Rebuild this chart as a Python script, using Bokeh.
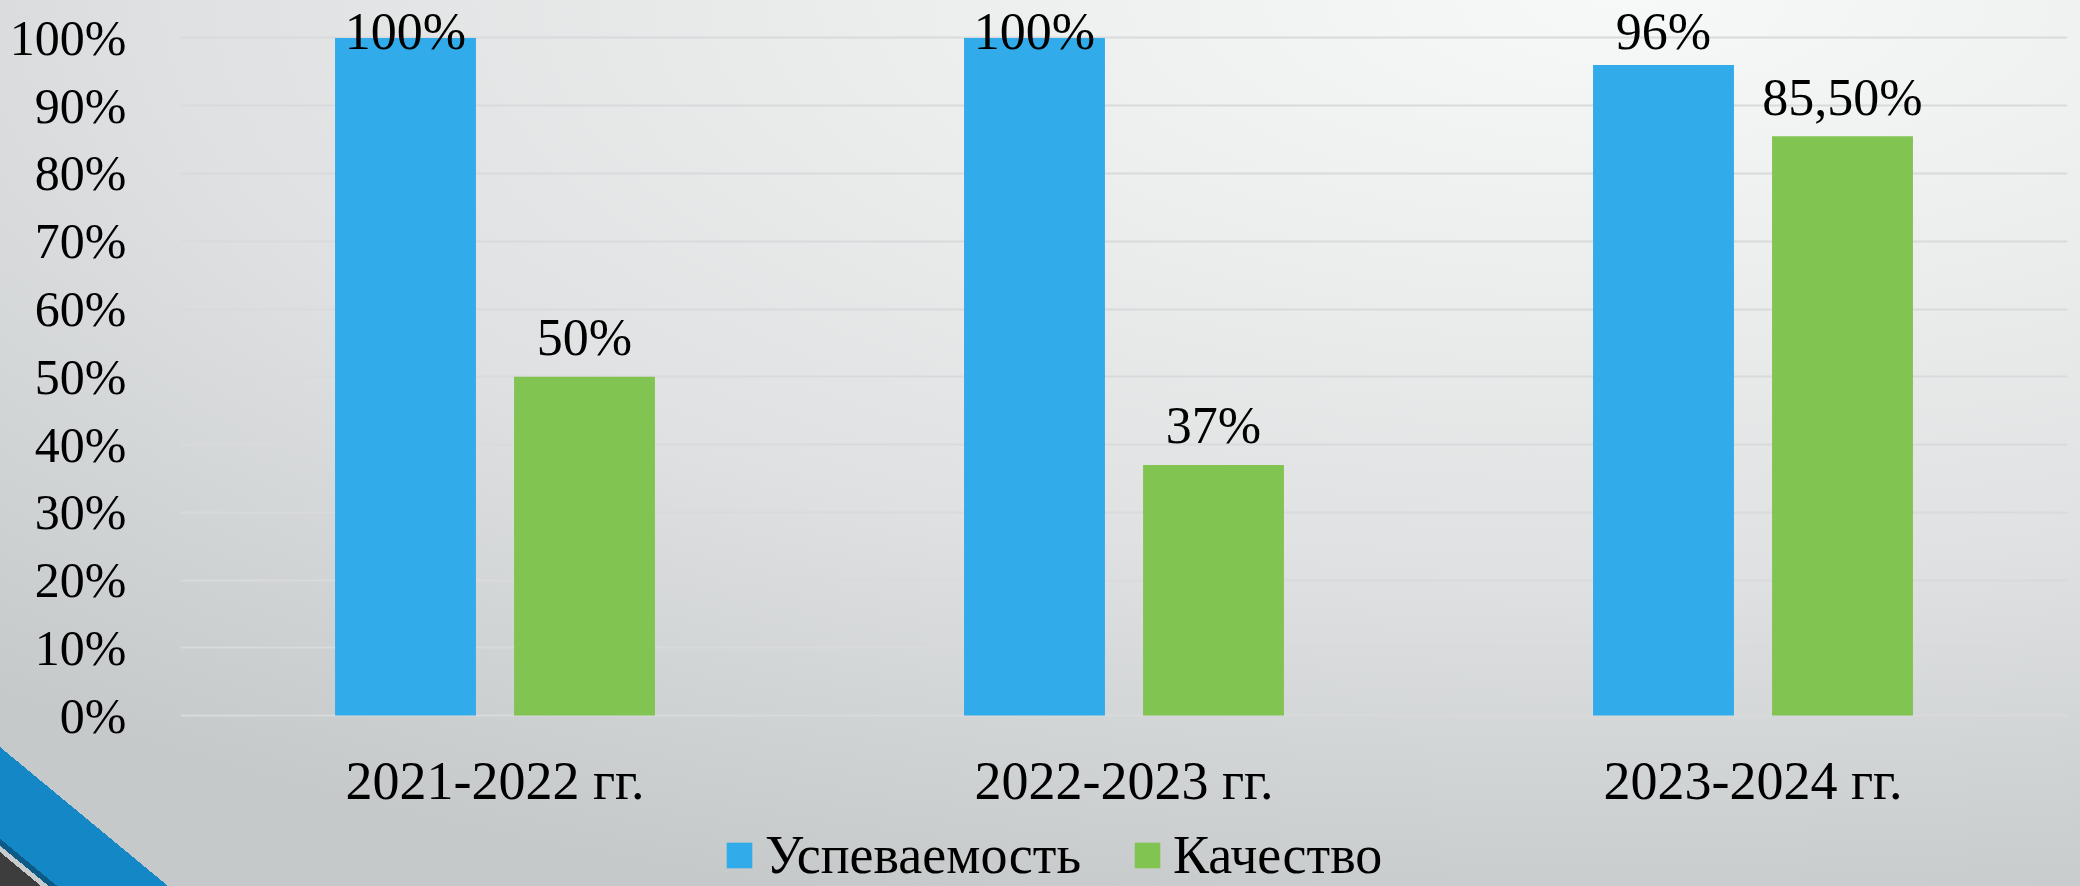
import numpy as np
from bokeh.plotting import figure
from bokeh.models import (ColumnDataSource, FactorRange, Range1d, FixedTicker,
                          NumeralTickFormatter, Legend, LegendItem, GlobalInlineStyleSheet)
from bokeh.transform import dodge
from bokeh.core.properties import value
from bokeh.embed import file_html
from bokeh.resources import INLINE

# ---------------- data ----------------
categories = ["2021-2022 гг.", "2022-2023 гг.", "2023-2024 гг."]
series_names = ["Успеваемость", "Качество"]
uspevaemost = [1.00, 1.00, 0.96]
kachestvo = [0.50, 0.37, 0.855]
uspevaemost_labels = ["100%", "100%", "96%"]
kachestvo_labels = ["50%", "37%", "85,50%"]
y_ticks = [0.0, 0.1, 0.2, 0.3, 0.4, 0.5, 0.6, 0.7, 0.8, 0.9, 1.0]

# ---------------- style ----------------
BLUE = "#31ABEA"
GREEN = "#82C451"
FONT = "Liberation Serif"
FSIZE = "52px"
FSIZE_BIG = "54px"
FSIZE_TICK = "50px"
OFFSET = 0.1423
BAR_W = 0.224
LABEL_CAP = 0.952   # labels of very tall bars are kept inside the chart area
Y_MIN, Y_MAX = -0.2522, 1.0553   # room below the axis for category names and legend

src = ColumnDataSource(dict(
    cat=categories,
    usp=uspevaemost,
    kach=kachestvo,
    usp_text=uspevaemost_labels,
    kach_text=kachestvo_labels,
    usp_ly=list(np.minimum(uspevaemost, LABEL_CAP)),
    kach_ly=list(np.minimum(kachestvo, LABEL_CAP)),
    base=[0.0] * len(categories),
))

p = figure(x_range=FactorRange(factors=categories, range_padding=0),
           y_range=Range1d(Y_MIN, Y_MAX),
           width=2080, height=886, x_axis_location=None,
           output_backend="svg", toolbar_location=None,
           min_border_left=180, min_border_right=13,
           min_border_top=0, min_border_bottom=0)

p.background_fill_color = None
p.border_fill_color = None
p.outline_line_color = None

r1 = p.vbar(x=dodge("cat", -OFFSET, range=p.x_range), top="usp", width=BAR_W,
            source=src, fill_color=BLUE, line_color=None)
r2 = p.vbar(x=dodge("cat", OFFSET, range=p.x_range), top="kach", width=BAR_W,
            source=src, fill_color=GREEN, line_color=None)

for xoff, ycol, tcol in [(-OFFSET, "usp_ly", "usp_text"), (OFFSET, "kach_ly", "kach_text")]:
    p.text(x=dodge("cat", xoff, range=p.x_range), y=ycol, text=tcol, source=src,
           text_align="center", text_baseline="alphabetic", y_offset=-39,
           text_font=value(FONT), text_font_size=FSIZE, text_color="black")

# category names under the baseline
p.text(x="cat", y="base", text="cat", source=src,
       text_align="center", text_baseline="alphabetic", y_offset=65,
       text_font=value(FONT), text_font_size=FSIZE_BIG, text_color="black")

# y axis
p.yaxis.ticker = FixedTicker(ticks=y_ticks)
p.yaxis.formatter = NumeralTickFormatter(format="0%")
p.yaxis.axis_line_color = None
p.yaxis.major_tick_line_color = None
p.yaxis.minor_tick_line_color = None
p.yaxis.major_label_text_font = FONT
p.yaxis.major_label_text_font_size = FSIZE_TICK
p.yaxis.major_label_text_color = "black"
p.yaxis.major_label_standoff = 48

p.xgrid.grid_line_color = None
p.ygrid.grid_line_color = "#d8dadb"
p.ygrid.grid_line_width = 2

legend = Legend(items=[LegendItem(label=series_names[0], renderers=[r1]),
                       LegendItem(label=series_names[1], renderers=[r2])],
                orientation="horizontal", location=(543, 0),
                glyph_width=32, glyph_height=32, label_standoff=10, spacing=50,
                padding=0, margin=0, border_line_color=None,
                background_fill_alpha=0,
                label_text_font=FONT, label_text_font_size=FSIZE_BIG,
                label_text_color="black")
p.add_layout(legend, "center")

css = """
html {
  background-color: #d3d6d7;
  background-image:
    linear-gradient(to top right, #3d3d3d 0%, #3d3d3d 12.2%, #c9cccd 12.2%, #c9cccd 14.5%,
                    #0e5a86 14.5%, #0e5a86 17%, #1488c6 17%, #1488c6 50%, rgba(0,0,0,0) 50%),
    radial-gradient(ellipse 2400px 950px at 78% 0%, #f7f8f8 0%, #eceded 30%, #dfe1e2 60%, #c5c9ca 100%);
  background-size: 168px 139px, 2080px 886px;
  background-position: left 0 top 747px, 0 0;
  background-repeat: no-repeat, no-repeat;
  background-attachment: fixed, fixed;
}
body { background: transparent; }
"""
p.stylesheets = [GlobalInlineStyleSheet(css=css)]

open("out.html", "w").write(file_html(p, INLINE))
